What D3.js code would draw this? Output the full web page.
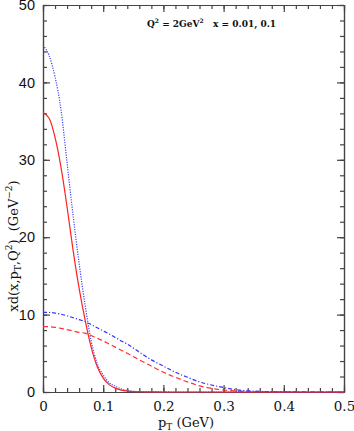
<!DOCTYPE html>
<html>
<head>
<meta charset="utf-8">
<script src="https://cdn.jsdelivr.net/npm/d3@7"></script>
<style>
  body { margin: 0; background: #fff; }
  svg { display: block; }
</style>
</head>
<body>
<svg id="chart" width="354" height="431"></svg>
<script>
// pT grid (GeV) and the four curves
const pT = [0, 0.01, 0.02, 0.03, 0.04, 0.05, 0.06, 0.07, 0.08, 0.09, 0.10, 0.11, 0.12, 0.13, 0.14,
            0.16, 0.18, 0.20, 0.22, 0.24, 0.26, 0.28, 0.30, 0.32, 0.34, 0.36, 0.40, 0.45, 0.50];

const redSolid = [36.1, 35.4, 32.9, 29.0, 23.9, 18.3, 13.4, 9.3, 5.8, 3.3, 1.8, 0.95, 0.5, 0.25, 0.12,
                  0.03, 0.01, 0, 0, 0, 0, 0, 0, 0, 0, 0, 0, 0, 0];
const blueDotted = [44.8, 43.5, 40.7, 36.4, 29.6, 22.8, 16.6, 11.2, 6.6, 3.7, 2.2, 1.2, 0.75, 0.4, 0.2,
                    0.05, 0.02, 0.01, 0, 0, 0, 0, 0, 0, 0, 0, 0, 0, 0];
const redDashed = [8.45, 8.43, 8.35, 8.22, 8.05, 7.88, 7.7, 7.6, 7.3, 6.95, 6.6, 6.2, 5.8, 5.4, 5.0,
                   4.15, 3.35, 2.55, 1.9, 1.3, 0.8, 0.47, 0.26, 0.13, 0.06, 0.03, 0.01, 0, 0];
const blueDashDot = [10.3, 10.28, 10.2, 10.05, 9.85, 9.6, 9.35, 9.1, 8.7, 8.3, 7.9, 7.5, 7.05, 6.6, 6.2,
                     5.15, 4.15, 3.35, 2.55, 1.9, 1.3, 0.9, 0.58, 0.3, 0.16, 0.08, 0.02, 0, 0];

const xMajor = [0, 0.1, 0.2, 0.3, 0.4, 0.5];
const xMinor = d3.range(0, 0.5001, 0.02);
const yMajor = [0, 10, 20, 30, 40, 50];
const yMinor = d3.range(0, 50.001, 2);

const margin = {top: 5, right: 10, bottom: 39, left: 43};
const width = 354, height = 431;

const svg = d3.select("#chart");

const x = d3.scaleLinear().domain([0, 0.5]).range([margin.left, width - margin.right]);
const y = d3.scaleLinear().domain([0, 50]).range([height - margin.bottom, margin.top]);

const axisColor = "#444";

// minor ticks on all four sides (inward)
function minorAxis(axis, scale, values) {
    return axis(scale).tickValues(values).tickSizeInner(-4).tickSizeOuter(0).tickFormat("");
}
svg.append("g").attr("transform", `translate(0,${y(0)})`).call(minorAxis(d3.axisBottom, x, xMinor));
svg.append("g").attr("transform", `translate(0,${y(50)})`).call(minorAxis(d3.axisTop, x, xMinor));
svg.append("g").attr("transform", `translate(${x(0)},0)`).call(minorAxis(d3.axisLeft, y, yMinor));
svg.append("g").attr("transform", `translate(${x(0.5)},0)`).call(minorAxis(d3.axisRight, y, yMinor));

// major ticks
svg.append("g")
    .attr("class", "xaxis")
    .attr("transform", `translate(0,${y(0)})`)
    .call(d3.axisBottom(x).tickValues(xMajor).tickSizeInner(-7).tickSizeOuter(0).tickPadding(9)
        .tickFormat(d => d === 0 ? "0" : d3.format(".1f")(d)));
svg.append("g")
    .attr("transform", `translate(0,${y(50)})`)
    .call(d3.axisTop(x).tickValues(xMajor).tickSizeInner(-7).tickSizeOuter(0).tickFormat(""));
svg.append("g")
    .attr("class", "yaxis")
    .attr("transform", `translate(${x(0)},0)`)
    .call(d3.axisLeft(y).tickValues(yMajor).tickSizeInner(-7).tickSizeOuter(0).tickPadding(8));
svg.append("g")
    .attr("transform", `translate(${x(0.5)},0)`)
    .call(d3.axisRight(y).tickValues(yMajor).tickSizeInner(-7).tickSizeOuter(0).tickFormat(""));

svg.selectAll(".domain, .tick line").attr("stroke", axisColor).attr("stroke-width", 1.2);
svg.selectAll(".xaxis text")
    .attr("font-family", "'DejaVu Serif', serif")
    .attr("font-size", 13.5)
    .attr("fill", "#111");
svg.selectAll(".yaxis text")
    .attr("font-family", "'Liberation Sans', Arial, sans-serif")
    .attr("font-size", 14.5)
    .attr("fill", "#111");

// curves
const series = [
    {values: redDashed,   color: "#ff3030", dash: "5,3"},
    {values: blueDashDot, color: "#3030ff", dash: "4,2,1.2,2"},
    {values: blueDotted,  color: "#4040ff", dash: "1.2,1.3"},
    {values: redSolid,    color: "#ff2020", dash: null}
];

const line = d3.line()
    .x((d, i) => x(pT[i]))
    .y(d => y(d))
    .curve(d3.curveMonotoneX);

svg.append("g")
    .selectAll("path")
    .data(series)
    .join("path")
    .attr("fill", "none")
    .attr("stroke", d => d.color)
    .attr("stroke-width", 1.2)
    .attr("stroke-dasharray", d => d.dash)
    .attr("d", d => line(d.values));

// axis titles
const xt = svg.append("text")
    .attr("x", 186)
    .attr("y", 427)
    .attr("text-anchor", "middle")
    .attr("font-family", "'DejaVu Serif', serif")
    .attr("font-size", 13)
    .attr("fill", "#111");
xt.append("tspan").text("p");
xt.append("tspan").attr("font-size", 9).attr("dy", 3).text("T");
xt.append("tspan").attr("dy", -3).text(" (GeV)");

const yt = svg.append("text")
    .attr("transform", "translate(18,246) rotate(-90)")
    .attr("text-anchor", "middle")
    .attr("font-family", "'DejaVu Serif', serif")
    .attr("font-size", 13)
    .attr("fill", "#111")
    .style("white-space", "pre");
yt.append("tspan").text("xd(x,p");
yt.append("tspan").attr("font-size", 9).attr("dy", 3).text("T");
yt.append("tspan").attr("dy", -3).text(",Q");
yt.append("tspan").attr("font-size", 9).attr("dy", -6).text("2");
yt.append("tspan").attr("dy", 6).text(")  (GeV");
yt.append("tspan").attr("font-size", 9).attr("dy", -6).text("\u22122");
yt.append("tspan").attr("dy", 6).text(")");

// annotation
const ann = svg.append("text")
    .attr("x", 147)
    .attr("y", 27)
    .attr("font-family", "'DejaVu Serif', serif")
    .attr("font-weight", "bold")
    .attr("font-size", 9)
    .attr("fill", "#111")
    .style("white-space", "pre");
ann.append("tspan").text("Q");
ann.append("tspan").attr("font-size", 6).attr("dy", -4).text("2");
ann.append("tspan").attr("dy", 4).text(" = 2GeV");
ann.append("tspan").attr("font-size", 6).attr("dy", -4).text("2");
ann.append("tspan").attr("dy", 4).text("   x = 0.01, 0.1");
</script>
</body>
</html>
